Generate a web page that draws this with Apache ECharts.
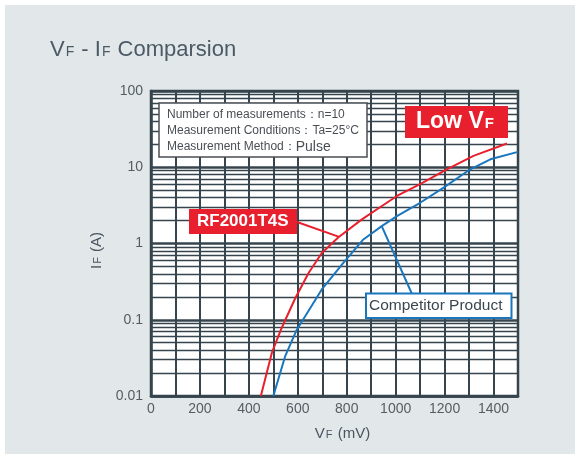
<!DOCTYPE html>
<html><head><meta charset="utf-8">
<script src="https://cdn.jsdelivr.net/npm/echarts@6/dist/echarts.min.js"></script>
<style>
html,body{margin:0;padding:0;background:#fff;}
#bg{position:absolute;left:5px;top:5px;width:570px;height:449px;background:#e2e7ea;}
#c{position:absolute;left:0;top:0;width:575px;height:454px;}
</style>
</head><body><div id="bg"></div><div id="c"></div>
<script>
// ---- data ----
const xTickLabels = [0, 200, 400, 600, 800, 1000, 1200, 1400];
const yTickLabels = [0.01, 0.1, 1, 10, 100];
const vfRF = [449, 494, 534, 589, 644, 698, 765, 862, 950, 1005, 1100, 1209, 1318, 1455];
const ifRF = [0.01, 0.037, 0.078, 0.19, 0.41, 0.75, 1.2, 2.07, 3.2, 4.2, 6.0, 9.4, 14.1, 20.5];
const vfComp = [500, 548, 596, 698, 787, 868, 943, 1005, 1100, 1196, 1305, 1387, 1500];
const ifComp = [0.01, 0.033, 0.074, 0.25, 0.56, 1.13, 1.69, 2.29, 3.42, 5.4, 9.4, 12.7, 15.9];
const seriesNames = ['RF2001T4S', 'Competitor Product'];
const infoLines = ['Number of measurements：n=10', 'Measurement Conditions：Ta=25°C', 'Measurement Method：Pulse'];
const rfLeaderPoint = [769, 1.22];
const compLeaderPoint = [943, 1.69];

// minor log grid levels (2..9 within each decade)
const minorLevels = [];
for (let i = 0; i < yTickLabels.length - 1; i++) {
  for (let k = 2; k <= 9; k++) minorLevels.push(+(yTickLabels[i] * k).toPrecision(3));
}

const FONT = '"Liberation Sans", Arial, sans-serif';
const GRID = '#36444e';
const RED = '#e8202d';
const BLUE = '#1a76bd';
const TXT = '#4a5560';

const chart = echarts.init(document.getElementById('c'), null, {renderer: 'canvas'});
chart.setOption({
  backgroundColor: 'transparent',
  animation: false,
  textStyle: {fontFamily: FONT},
  title: {
    left: 45, top: 34,
    text: '{v|V}{f|F}{v| - I}{f|F}{v| Comparsion}',
    textStyle: {
      fontWeight: 'normal',
      rich: {
        v: {fontSize: 22, color: '#4b5a65', fontFamily: FONT, fontWeight: 'normal'},
        f: {fontSize: 14, color: '#4b5a65', fontFamily: FONT, fontWeight: 'normal', padding: [5, 1, 0, 1]}
      }
    }
  },
  grid: {left: 151, right: 57, top: 91, bottom: 58, show: true, backgroundColor: '#fff', borderColor: GRID, borderWidth: 2.5},
  xAxis: {
    type: 'value', min: 0, max: 1500, interval: 100,
    name: '{v|V}{f|F}{v| (mV)}', nameLocation: 'middle', nameGap: 30,
    nameTextStyle: {padding: [0, 0, 0, 16], rich: {
      v: {fontSize: 15, color: TXT, fontFamily: FONT},
      f: {fontSize: 11, color: TXT, fontFamily: FONT, padding: [3, 1, 0, 1]}
    }},
    axisLine: {show: true, lineStyle: {color: GRID, width: 2.5}},
    axisTick: {show: false},
    splitLine: {show: true, lineStyle: {color: GRID, width: 2}},
    axisLabel: {
      color: '#555d63', fontSize: 14, margin: 6, fontFamily: FONT,
      formatter: v => xTickLabels.indexOf(v) >= 0 ? String(v) : ''
    }
  },
  yAxis: {
    type: 'log', logBase: 10, min: 0.01, max: 100,
    name: '{v|I}{f|F}{v| (A)}', nameLocation: 'middle', nameGap: 47, nameRotate: 90,
    nameTextStyle: {padding: [0, 14, 0, 0], rich: {
      v: {fontSize: 15, color: TXT, fontFamily: FONT},
      f: {fontSize: 11, color: TXT, fontFamily: FONT, padding: [3, 1, 0, 1]}
    }},
    axisLine: {show: true, lineStyle: {color: GRID, width: 2.5}},
    axisTick: {show: false},
    splitLine: {show: true, lineStyle: {color: GRID, width: 2.5}},
    axisLabel: {
      color: '#555d63', fontSize: 14, margin: 8, fontFamily: FONT,
      formatter: v => {
        const m = yTickLabels.find(t => Math.abs(t - v) / t < 1e-6);
        return m === undefined ? '' : String(m);
      }
    }
  },
  series: [
    {
      type: 'line', data: [], z: 1, silent: true,
      markLine: {
        silent: true, symbol: ['none', 'none'], label: {show: false},
        lineStyle: {color: GRID, width: 1.4, type: 'solid'},
        data: minorLevels.map(v => ({yAxis: v}))
      }
    },
    {
      name: seriesNames[0], type: 'line', z: 5, symbol: 'none', smooth: false,
      lineStyle: {color: RED, width: 2}, itemStyle: {color: RED},
      data: vfRF.map((x, i) => [x, ifRF[i]]),
      markLine: {
        silent: true, symbol: ['none', 'none'], label: {show: false},
        lineStyle: {color: RED, width: 2, type: 'solid'},
        data: [[{x: 297, y: 222}, {coord: rfLeaderPoint}]]
      }
    },
    {
      name: seriesNames[1], type: 'line', z: 5, symbol: 'none', smooth: false,
      lineStyle: {color: BLUE, width: 2}, itemStyle: {color: BLUE},
      data: vfComp.map((x, i) => [x, ifComp[i]]),
      markLine: {
        silent: true, symbol: ['none', 'none'], label: {show: false},
        lineStyle: {color: BLUE, width: 2, type: 'solid'},
        data: [[{x: 412, y: 294}, {coord: compLeaderPoint}]]
      }
    }
  ],
  graphic: [
    {type: 'rect', z: 20, shape: {x: 159, y: 103, width: 208, height: 54},
     style: {fill: '#fff', stroke: '#4a4f55', lineWidth: 1.5}},
    {type: 'text', z: 21, left: 167, top: 109,
     style: {
       text: infoLines.map((l, i) => {
         const p = l.split('：');
         return (i === 2 ? '{a|' + p[0] + '：}{b|' + p[1] + '}' : '{a|' + p[0] + '：' + p[1] + '}');
       }).join('\n'),
       rich: {
         a: {fontSize: 12, fill: '#4a4f55', fontFamily: FONT, lineHeight: 16},
         b: {fontSize: 14, fill: '#4a4f55', fontFamily: FONT, lineHeight: 16}
       }
     }},
    {type: 'rect', z: 20, shape: {x: 405, y: 106, width: 103, height: 32}, style: {fill: RED}},
    {type: 'text', z: 21, left: 416, top: 110,
     style: {
       text: '{a|Low V}{b|F}',
       rich: {
         a: {fontSize: 23, fontWeight: 'bold', fill: '#fff', fontFamily: FONT},
         b: {fontSize: 15, fontWeight: 'bold', fill: '#fff', fontFamily: FONT, padding: [5, 0, 0, 1]}
       }
     }},
    {type: 'rect', z: 20, shape: {x: 189, y: 209, width: 108, height: 25}, style: {fill: RED}},
    {type: 'text', z: 21, left: 197, top: 213,
     style: {text: seriesNames[0], fontSize: 17, fontWeight: 'bold', fill: '#fff', fontFamily: FONT}},
    {type: 'rect', z: 20, shape: {x: 366, y: 293.5, width: 145.5, height: 24.5},
     style: {fill: '#fff', stroke: BLUE, lineWidth: 2}},
    {type: 'text', z: 21, left: 369, top: 298,
     style: {text: seriesNames[1], fontSize: 15.5, fill: '#3b4750', fontFamily: FONT}}
  ]
});
</script></body></html>
